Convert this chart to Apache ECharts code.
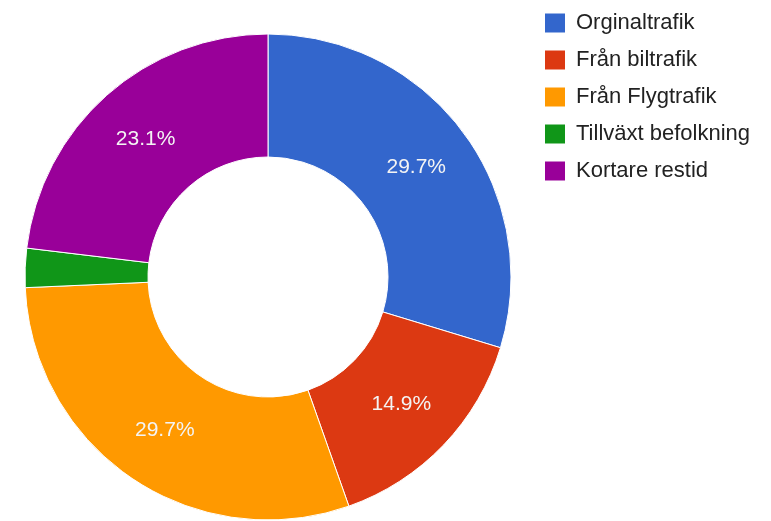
<!DOCTYPE html>
<html>
<head>
<meta charset="utf-8">
<script src="https://cdn.jsdelivr.net/npm/echarts@6/dist/echarts.min.js"></script>
<style>
html,body{margin:0;padding:0;background:#fff;}
#chart{width:771px;height:521px;}
</style>
</head>
<body>
<div id="chart"></div>
<script>
const categories = ['Orginaltrafik', 'Från biltrafik', 'Från Flygtrafik', 'Tillväxt befolkning', 'Kortare restid'];
const values = [29.7, 14.9, 29.7, 2.6, 23.1];
const colors = ['#3366cc', '#dc3912', '#ff9900', '#109618', '#990099'];

const chart = echarts.init(document.getElementById('chart'));
chart.setOption({
  animation: false,
  color: colors,
  legend: {
    orient: 'vertical',
    left: 540,
    top: 7,
    padding: 5,
    itemWidth: 20,
    itemHeight: 19,
    itemGap: 15,
    icon: 'rect',
    data: categories,
    itemStyle: { borderWidth: 0 },
    textStyle: {
      fontFamily: 'Arial, "Liberation Sans", sans-serif',
      fontSize: 22,
      color: '#222222',
      lineHeight: 21,
      padding: [0, 0, 0, 6]
    }
  },
  series: [{
    type: 'pie',
    center: [268, 277],
    radius: [120, 243],
    startAngle: 90,
    clockwise: true,
    itemStyle: { borderColor: '#ffffff', borderWidth: 1 },
    label: {
      show: true,
      position: 'inside',
      formatter: function (p) { return p.value < 5 ? '' : p.value.toFixed(1) + '%'; },
      color: '#f4f4f4',
      fontFamily: 'Arial, "Liberation Sans", sans-serif',
      fontSize: 21
    },
    labelLine: { show: false },
    emphasis: { disabled: true },
    data: categories.map((c, i) => ({ name: c, value: values[i] }))
  }]
});
</script>
</body>
</html>
